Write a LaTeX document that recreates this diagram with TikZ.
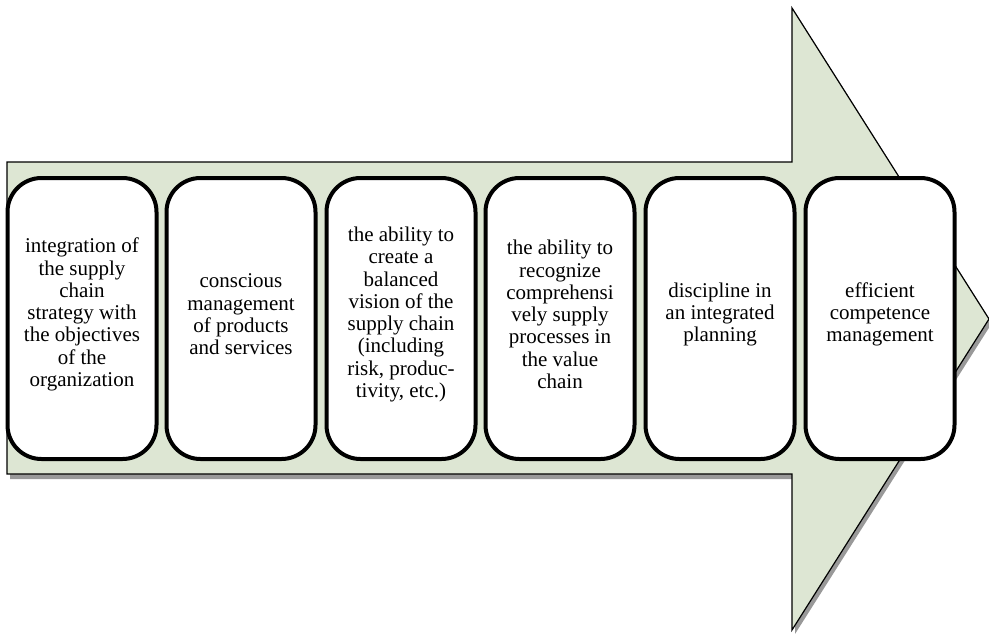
\documentclass[tikz,border=0pt]{standalone}
\usepackage{fontspec}
\setmainfont{Liberation Serif}
\begin{document}
\begin{tikzpicture}[x=1pt,y=-1pt,
  arrowfill/.style={fill=arrowgreen,draw=black,line width=1.2pt,line join=miter},
  stagebox/.style={draw=black,fill=white,line width=4pt,rounded corners=34pt,
    minimum width=149pt,minimum height=281pt,inner sep=0pt},
  stagetext/.style={inner sep=0pt,align=center,font=\fontsize{21}{22.3}\selectfont}]
\definecolor{arrowgreen}{HTML}{DDE6D3}
\useasboundingbox (0,0) rectangle (989,633);
% shadow of the big arrow
\fill[black!40] (10,166) -- (795,166) -- (795,12) -- (992,323) -- (795,634) -- (795,479) -- (10,479) -- cycle;
% the big arrow
\path[arrowfill] (7,162) -- (792,162) -- (792,8) -- (989,319) -- (792,630) -- (792,474) -- (7,474) -- cycle;
% stages
\foreach \i/\x in {1/82,2/241,3/401,4/560,5/720,6/880}
  \node[stagebox] (s\i) at (\x,318.5) {};
\node[stagetext] (t1) at ([yshift=4pt]s1.center) {integration of\\the supply\\chain\\strategy with\\the objectives\\of the\\organization};
\node[stagetext] (t2) at ([yshift=4pt]s2.center) {conscious\\management\\of products\\and services};
\node[stagetext] (t3) at ([yshift=4pt]s3.center) {the ability to\\create a\\balanced\\vision of the\\supply chain\\(including\\risk, produc-\\tivity, etc.)};
\node[stagetext] (t4) at ([yshift=4pt]s4.center) {the ability to\\recognize\\comprehensi\\vely supply\\processes in\\the value\\chain};
\node[stagetext] (t5) at ([yshift=4pt]s5.center) {discipline in\\an integrated\\planning};
\node[stagetext] (t6) at ([yshift=4pt]s6.center) {efficient\\competence\\management};
\end{tikzpicture}
\end{document}
